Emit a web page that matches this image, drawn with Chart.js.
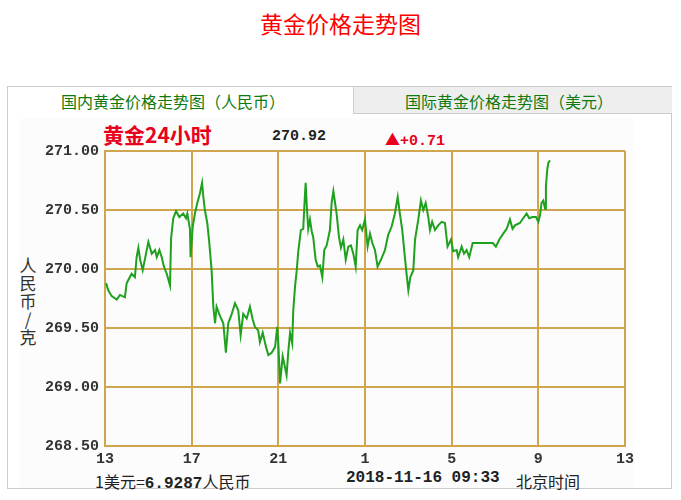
<!DOCTYPE html>
<html>
<head>
<meta charset="utf-8">
<script src="https://cdn.jsdelivr.net/npm/chart.js@4/dist/chart.umd.min.js"></script>
<style>
  body { margin: 0; background: #fff; width: 681px; height: 500px; overflow: hidden; position: relative; font-family: "Noto Sans CJK SC", sans-serif; }
  .abs { position: absolute; white-space: nowrap; }
  #title { left: 0; width: 681px; top: 6px; text-align: center; color: #f00; font-size: 23px; }
  #panel { left: 7px; top: 86px; width: 665px; height: 403px; border: 1px solid #ccc; box-sizing: border-box; }
  #inner { left: 20px; top: 118px; width: 615px; height: 370px; background: #fbfcfb; }
  #tab2 { left: 353px; top: 87px; width: 319px; height: 27px; background: #eee; border-left: 1px solid #ccc; border-bottom: 1px solid #ccc; box-sizing: border-box; }
  .tabtxt { color: #0e7a0e; font-size: 16px; top: 89px; }
  #head24 { left: 103px; top: 119px; color: #e8001c; font-size: 21px; font-weight: bold; }
  .mono { font-family: "Liberation Mono", monospace; font-weight: bold; }
  #price { left: 272px; top: 128px; font-size: 15px; color: #222; }
  #chg { left: 385px; top: 128px; font-size: 15px; color: #e8001c; }
  #ytitle { left: 19px; top: 256px; width: 18px; font-size: 17px; line-height: 18px; color: #333; white-space: normal; text-align: center; }
  .foot { top: 469px; font-size: 16px; color: #222; }
  canvas { position: absolute; left: 0; top: 0; }
</style>
</head>
<body>
<div class="abs" id="title">黄金价格走势图</div>
<div class="abs" id="panel"></div>
<div class="abs" id="inner"></div>
<div class="abs" id="tab2"></div>
<div class="abs tabtxt" style="left:61px">国内黄金价格走势图（人民币）</div>
<div class="abs tabtxt" style="left:405px">国际黄金价格走势图（美元）</div>
<div class="abs" id="head24">黄金24小时</div>
<div class="abs mono" id="price">270.92</div>
<div class="abs" id="chg">▲<span class="mono">+0.71</span></div>
<div class="abs" id="ytitle">人<br>民<br>币<br>/<br>克</div>
<div class="abs foot" style="left:95px">1美元=<span class="mono">6.9287</span>人民币</div>
<div class="abs foot mono" style="left:346px">2018-11-16 09:33</div>
<div class="abs foot" style="left:516px">北京时间</div>
<canvas id="myChart" width="681" height="500"></canvas>
<script>
// hours after 13:00 (Beijing time) and price in CNY per gram
var hours = [0.05, 0.15, 0.31, 0.54, 0.69, 0.92, 1.00, 1.23, 1.38, 1.46, 1.54, 1.62, 1.74, 1.85, 2.00, 2.16, 2.31, 2.39, 2.51, 2.62,
  2.72, 2.85, 3.00, 3.05, 3.15, 3.28, 3.43, 3.61, 3.74, 3.80, 3.92, 3.95, 4.05, 4.15, 4.26, 4.38, 4.48, 4.54, 4.61, 4.72,
  4.81, 4.92, 5.00, 5.08, 5.15, 5.31, 5.46, 5.58, 5.69, 5.85, 6.00, 6.15, 6.26, 6.38, 6.54, 6.69, 6.82, 6.92, 7.07, 7.15,
  7.28, 7.43, 7.54, 7.69, 7.85, 7.95, 8.00, 8.08, 8.20, 8.27, 8.38, 8.46, 8.54, 8.64, 8.69, 8.77, 8.85, 8.92, 9.04, 9.15,
  9.20, 9.26, 9.32, 9.38, 9.46, 9.54, 9.61, 9.72, 9.82, 9.92, 10.03, 10.12, 10.23, 10.38, 10.46, 10.54, 10.61, 10.69, 10.80, 10.89,
  11.00, 11.11, 11.23, 11.35, 11.46, 11.57, 11.66, 11.77, 11.87, 12.00, 12.12, 12.23, 12.34, 12.46, 12.58, 12.74, 12.92, 13.07, 13.23, 13.38,
  13.51, 13.61, 13.72, 13.84, 13.94, 14.00, 14.09, 14.23, 14.31, 14.46, 14.58, 14.69, 14.80, 14.92, 15.00, 15.10, 15.23, 15.38, 15.54, 15.69,
  15.81, 15.97, 16.07, 16.23, 16.30, 16.46, 16.57, 16.69, 16.81, 16.97, 17.90, 18.04, 18.20, 18.38, 18.54, 18.69, 18.81, 18.92, 19.15, 19.30,
  19.46, 19.58, 19.73, 19.89, 20.00, 20.08, 20.15, 20.23, 20.31, 20.35, 20.41, 20.46, 20.54];
var prices = [269.88, 269.82, 269.77, 269.74, 269.78, 269.76, 269.88, 269.96, 269.93, 270.10, 270.18, 270.08, 269.99, 270.09, 270.23, 270.13, 270.16, 270.10, 270.16, 270.10,
  270.02, 269.96, 269.86, 270.26, 270.43, 270.49, 270.44, 270.47, 270.43, 270.47, 270.34, 270.10, 270.36, 270.47, 270.56, 270.64, 270.73, 270.61, 270.50, 270.39,
  270.23, 269.99, 269.68, 269.54, 269.68, 269.60, 269.54, 269.29, 269.54, 269.62, 269.71, 269.65, 269.44, 269.62, 269.58, 269.68, 269.57, 269.51, 269.48, 269.38,
  269.46, 269.34, 269.27, 269.29, 269.34, 269.51, 269.37, 269.03, 269.26, 269.20, 269.10, 269.30, 269.46, 269.37, 269.65, 269.85, 269.99, 270.15, 270.33, 270.34,
  270.53, 270.73, 270.51, 270.34, 270.42, 270.32, 270.27, 270.08, 270.02, 270.03, 269.93, 270.16, 270.20, 270.33, 270.56, 270.66, 270.57, 270.47, 270.27, 270.18,
  270.25, 270.08, 270.19, 270.20, 270.13, 270.02, 270.33, 270.37, 270.33, 270.42, 270.19, 270.30, 270.22, 270.16, 270.02, 270.08, 270.16, 270.29, 270.36, 270.47,
  270.61, 270.47, 270.33, 270.10, 269.92, 269.82, 269.93, 269.99, 270.25, 270.42, 270.58, 270.50, 270.56, 270.44, 270.33, 270.40, 270.33, 270.37, 270.40, 270.39,
  270.19, 270.25, 270.15, 270.16, 270.10, 270.19, 270.13, 270.16, 270.10, 270.22, 270.22, 270.19, 270.25, 270.30, 270.34, 270.42, 270.34, 270.37, 270.39, 270.43,
  270.47, 270.43, 270.44, 270.44, 270.40, 270.46, 270.56, 270.58, 270.51, 270.70, 270.84, 270.90, 270.92];
var xTickLabels = ['13', '17', '21', '1', '5', '9', '13'];
var yMin = 268.5, yMax = 271.0, yStep = 0.5;

var points = [];
for (let i = 0; i < hours.length; i++) {
    points.push({ x: hours[i], y: prices[i] });
}

var gridColor = '#cfa54e';
var tickFont = { family: 'Liberation Mono', size: 15, weight: 'bold' };

var ctx = document.getElementById('myChart').getContext('2d');
new Chart(ctx, {
    type: 'line',
    data: {
        datasets: [{
            label: '人民币/克',
            data: points,
            borderColor: '#1fa01f',
            borderWidth: 2,
            pointRadius: 0,
            tension: 0
        }]
    },
    options: {
        responsive: false,
        animation: false,
        devicePixelRatio: 1,
        layout: { padding: { left: 0, top: 151, right: 56, bottom: 0 } },
        scales: {
            x: {
                type: 'linear',
                min: 0, max: 24,
                afterFit: s => { s.height = 54; },
                ticks: {
                    stepSize: 4,
                    color: '#333',
                    font: tickFont,
                    padding: 4,
                    maxRotation: 0,
                    callback: v => xTickLabels[v / 4]
                },
                grid: { color: gridColor, lineWidth: 2, drawTicks: false },
                border: { color: gridColor, width: 2 }
            },
            y: {
                min: yMin, max: yMax,
                afterFit: s => { s.width = 105; },
                ticks: {
                    stepSize: yStep,
                    color: '#333',
                    font: tickFont,
                    padding: 6,
                    callback: v => v.toFixed(2)
                },
                grid: { color: gridColor, lineWidth: 2, drawTicks: false },
                border: { color: gridColor, width: 2 }
            }
        },
        plugins: {
            legend: { display: false },
            tooltip: { enabled: false }
        }
    }
});
</script>
</body>
</html>
